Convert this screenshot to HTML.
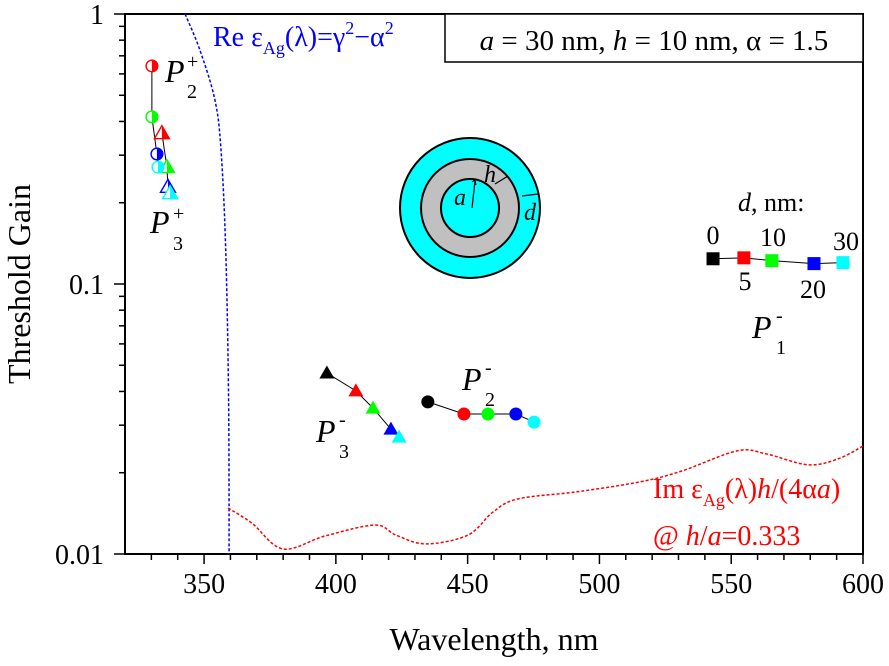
<!DOCTYPE html>
<html><head><meta charset="utf-8"><style>
body{margin:0;background:#fff;}
svg{display:block;font-family:"Liberation Serif",serif;}
</style></head><body>
<svg id="chart" width="889" height="666" viewBox="0 0 889 666" xmlns="http://www.w3.org/2000/svg">
<g id="axes"></g>
<g id="curves"></g>
<g id="marks"></g>
<text transform="translate(30,284) rotate(-90)" text-anchor="middle" font-size="32">Threshold Gain</text>
<text x="494" y="650" text-anchor="middle" font-size="32">Wavelength, nm</text>
<g>
<rect x="445" y="14" width="418" height="48" fill="#fff" stroke="#000" stroke-width="1.5"/>
<text x="654" y="50" text-anchor="middle" font-size="29"><tspan font-style="italic">a</tspan> = 30 nm, <tspan font-style="italic">h</tspan> = 10 nm, α = 1.5</text>
</g>
<text x="213" y="46" font-size="28" fill="#0000ff">Re ε<tspan font-size="18" dy="8">Ag</tspan><tspan dy="-8">(λ)=γ</tspan><tspan font-size="18" dy="-12">2</tspan><tspan dy="12">−α</tspan><tspan font-size="18" dy="-12">2</tspan></text>
<text x="653" y="498" font-size="28" fill="#ff0000">Im ε<tspan font-size="18" dy="8">Ag</tspan><tspan dy="-8">(λ)</tspan><tspan font-style="italic">h</tspan>/(4α<tspan font-style="italic">a</tspan>)</text>
<text x="653" y="545" font-size="28" fill="#ff0000">@ <tspan font-style="italic">h</tspan>/<tspan font-style="italic">a</tspan>=0.333</text>
<g>
<circle cx="470" cy="208" r="70" fill="#00ffff" stroke="#000" stroke-width="2"/>
<circle cx="470" cy="208" r="49" fill="#c0c0c0" stroke="#000" stroke-width="2"/>
<circle cx="470" cy="208" r="29" fill="#00ffff" stroke="#000" stroke-width="2"/>
<line x1="472" y1="208" x2="475" y2="181" stroke="#000" stroke-width="1.2"/>
<path d="M472,182 l3,-2 l1,5" fill="none" stroke="#000"/>
<line x1="495" y1="184" x2="508" y2="176" stroke="#000" stroke-width="1.2"/>
<line x1="522" y1="196" x2="538" y2="194" stroke="#000" stroke-width="1.2"/>
<text x="454" y="205" font-size="24" font-style="italic">a</text>
<text x="484" y="182" font-size="24" font-style="italic">h</text>
<text x="524" y="220" font-size="24" font-style="italic">d</text>
</g>
<g font-size="32" font-style="italic">
<text x="165" y="82">P</text><text x="187" y="98" font-size="20" font-style="normal">2</text><text x="187" y="68" font-size="20" font-style="normal">+</text>
<text x="150" y="233">P</text><text x="173" y="250" font-size="20" font-style="normal">3</text><text x="173" y="220" font-size="20" font-style="normal">+</text>
<text x="316" y="442">P</text><text x="339" y="458" font-size="20" font-style="normal">3</text><text x="339" y="426" font-size="20" font-style="normal">-</text>
<text x="462" y="390">P</text><text x="485" y="406" font-size="20" font-style="normal">2</text><text x="485" y="374" font-size="20" font-style="normal">-</text>
<text x="752" y="338">P</text><text x="776" y="354" font-size="20" font-style="normal">1</text><text x="776" y="322" font-size="20" font-style="normal">-</text>
</g>
<g font-size="26">
<text x="738" y="211"><tspan font-style="italic">d</tspan>, nm:</text>
<text x="713" y="244" text-anchor="middle">0</text>
<text x="745" y="290" text-anchor="middle">5</text>
<text x="773" y="246" text-anchor="middle">10</text>
<text x="813" y="298" text-anchor="middle">20</text>
<text x="846" y="250" text-anchor="middle">30</text>
</g>
</svg>
<script>
const xTicks = [350, 400, 450, 500, 550, 600];
const yTicks = [1, 0.1, 0.01];
const yTickLabels = ["1", "0.1", "0.01"];
const dColors = ["#000000", "#ff0000", "#00ff00", "#0000ff", "#00ffff"];
const p1Wl = [543.1, 554.8, 565.4, 581.4, 592.4];
const p1Gain = [0.124, 0.125, 0.122, 0.119, 0.120];
const p2mWl = [434.9, 448.6, 457.7, 468.3, 475.2];
const p2mGain = [0.0366, 0.0330, 0.0330, 0.0330, 0.0308];
const p3mWl = [396.6, 407.6, 414.1, 420.9, 424.0];
const p3mGain = [0.0468, 0.0402, 0.0347, 0.0290, 0.0271];
const p2pWl = [330.2, 330.2, 332.1, 332.5];
const p2pGain = [0.642, 0.416, 0.303, 0.271];
const p3pWl = [334.0, 335.9, 336.3, 337.1];
const p3pGain = [0.362, 0.271, 0.229, 0.217];
const reWl = [342.8, 348.4, 354.1, 356.4, 358.2, 359.3, 359.5];
const reGain = [1, 0.736, 0.481, 0.316, 0.135, 0.0376, 0.01];
const imWl = [359.1, 368.2, 379.9, 395.9, 414.8, 422.8, 434.2, 450.1, 459.6, 469.1, 491.5, 515.4, 531.3, 552.2, 563.2, 579.1, 590.5, 600];
const imGain = [0.0148, 0.0130, 0.01044, 0.01166, 0.0128, 0.01175, 0.0109, 0.01175, 0.0143, 0.0160, 0.0170, 0.0185, 0.0203, 0.0241, 0.0235, 0.0214, 0.0225, 0.0251];

const NS = "http://www.w3.org/2000/svg";
const X0 = 125, X1 = 863, Y0 = 14, Y1 = 554, WMIN = 320, WMAX = 600;
function sx(w){ return X0 + (w - WMIN) / (WMAX - WMIN) * (X1 - X0); }
function sy(g){ return Y0 + (0 - Math.log10(g)) / 2 * (Y1 - Y0); }
function mk(tag, attrs, parent){ const e = document.createElementNS(NS, tag); for (const k in attrs) e.setAttribute(k, attrs[k]); parent.appendChild(e); return e; }

const axes = document.getElementById('axes');
const frame = mk('rect', {x:X0, y:Y0, width:X1-X0, height:Y1-Y0, fill:'none', stroke:'#000', 'stroke-width':2}, axes);


for (let w = 330; w <= 600; w += 10) {
  const major = xTicks.includes(w);
  const t = mk('line', {x1:sx(w), x2:sx(w), y1:Y1, y2:Y1 + (major ? 10 : 6), stroke:'#000', 'stroke-width':1.5}, axes);
  
  
}
xTicks.forEach(w => {
  const l = mk('text', {x:sx(w), y:593, 'text-anchor':'middle', 'font-size':28}, axes);
  l.textContent = String(w);
  
  
});
for (let dec = -2; dec < 0; dec++) {
  for (let m = 1; m <= 9; m++) {
    const g = m * Math.pow(10, dec);
    const t = mk('line', {x1:X0 - (m === 1 ? 11 : 6), x2:X0, y1:sy(g), y2:sy(g), stroke:'#000', 'stroke-width':1.5}, axes);
    
    
  }
}
const tTop = mk('line', {x1:X0 - 11, x2:X0, y1:sy(1), y2:sy(1), stroke:'#000', 'stroke-width':1.5}, axes);


yTicks.forEach((g, i) => {
  const l = mk('text', {x:104, y:sy(g) + 10, 'text-anchor':'end', 'font-size':28}, axes);
  l.textContent = yTickLabels[i];
  
  
});

function smoothPath(ws, gs){
  const p = ws.map((w, i) => [sx(w), sy(gs[i])]);
  let d = 'M' + p[0][0] + ',' + p[0][1];
  for (let i = 0; i < p.length - 1; i++) {
    const a = p[Math.max(0, i-1)], b = p[i], c = p[i+1], e = p[Math.min(p.length-1, i+2)];
    const c1 = [b[0] + (c[0]-a[0])/6, b[1] + (c[1]-a[1])/6];
    const c2 = [c[0] - (e[0]-b[0])/6, c[1] - (e[1]-b[1])/6];
    d += ' C' + c1 + ' ' + c2 + ' ' + c;
  }
  return d;
}
const curves = document.getElementById('curves');
const reLine = mk('path', {d:smoothPath(reWl, reGain), fill:'none', stroke:'#0000ff', 'stroke-width':1.5, 'stroke-dasharray':'3,2'}, curves);


const imLine = mk('path', {d:smoothPath(imWl, imGain), fill:'none', stroke:'#ff0000', 'stroke-width':1.5, 'stroke-dasharray':'3,2'}, curves);



const marks = document.getElementById('marks');
function connector(ws, gs, name){
  const pl = mk('polyline', {points: ws.map((w,i) => sx(w) + ',' + sy(gs[i])).join(' '), fill:'none', stroke:'#000', 'stroke-width':1}, marks);
  
  
}
function marker(shape, x, y, color, half){
  const g = mk('g', {}, marks);
  
  
  const r = 6.5;
  if (shape === 'square') {
    mk('rect', {x:x-r, y:y-r, width:2*r, height:2*r, fill:color}, g);
  } else if (shape === 'circle') {
    if (half) {
      mk('circle', {cx:x, cy:y, r:r-0.7, fill:'#fff', stroke:color, 'stroke-width':1.4}, g);
      mk('path', {d:`M${x},${y-r} A${r},${r} 0 0 1 ${x},${y+r} Z`, fill:color}, g);
    } else mk('circle', {cx:x, cy:y, r:r, fill:color}, g);
  } else {
    const pts = `${x},${y-r-1} ${x+r+1},${y+r-1} ${x-r-1},${y+r-1}`;
    if (half) {
      mk('polygon', {points:pts, fill:'#fff', stroke:color, 'stroke-width':1.4}, g);
      mk('polygon', {points:`${x},${y-r-1} ${x+r+1},${y+r-1} ${x},${y+r-1}`, fill:color}, g);
    } else mk('polygon', {points:pts, fill:color}, g);
  }
}
connector(p1Wl, p1Gain, 'p1-minus-line');
connector(p2mWl, p2mGain, 'p2-minus-line');
connector(p3mWl, p3mGain, 'p3-minus-line');
connector(p2pWl, p2pGain, 'p2-plus-line');
connector(p3pWl, p3pGain, 'p3-plus-line');
p1Wl.forEach((w,i) => marker('square', sx(w), sy(p1Gain[i]), dColors[i], false));
p2mWl.forEach((w,i) => marker('circle', sx(w), sy(p2mGain[i]), dColors[i], false));
p3mWl.forEach((w,i) => marker('triangle', sx(w), sy(p3mGain[i]), dColors[i], false));
p3pWl.forEach((w,i) => marker('triangle', sx(w), sy(p3pGain[i]), dColors[i+1], true));
p2pWl.forEach((w,i) => marker('circle', sx(w), sy(p2pGain[i]), dColors[i+1], true));
</script>
</body></html>
